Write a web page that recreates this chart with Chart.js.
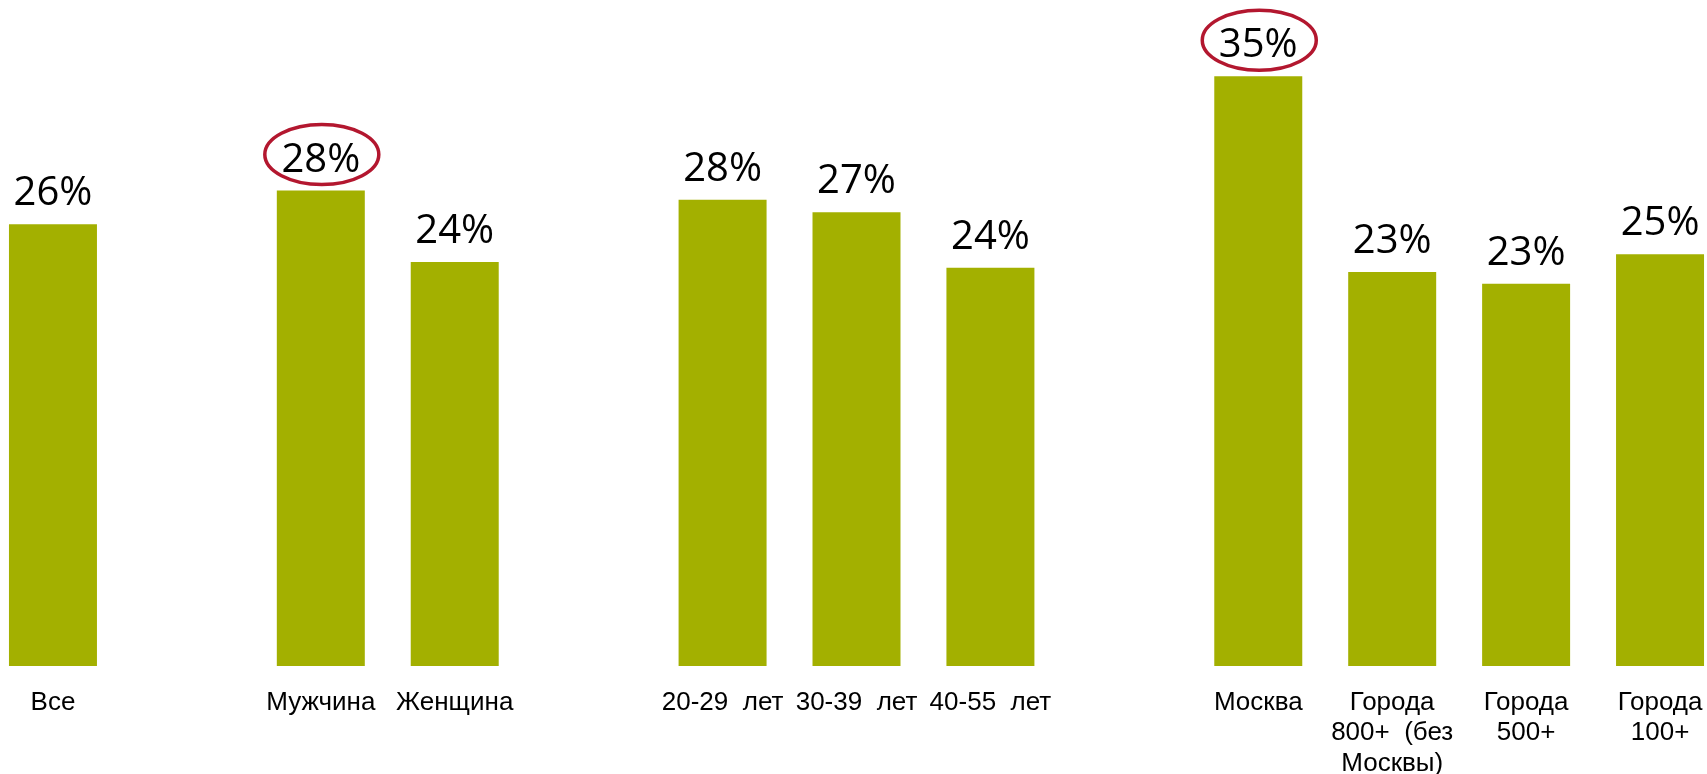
<!DOCTYPE html>
<html>
<head>
<meta charset="utf-8">
<script src="https://cdn.jsdelivr.net/npm/chart.js@4/dist/chart.umd.min.js"></script>
<style>
    html, body { margin: 0; padding: 0; background: #fff; overflow: hidden; }
    #wrap { position: absolute; left: -14px; top: 0; width: 1741px; height: 774px; }
</style>
</head>
<body>
<div id="wrap"><canvas id="chart" width="1741" height="774"></canvas></div>
<script>
// empty strings / nulls are the gaps between groups
const categories = [
    'Все', '',
    'Мужчина', 'Женщина', '',
    '20-29  лет', '30-39  лет', '40-55  лет', '',
    'Москва', ['Города', '800+  (без', 'Москвы)'], ['Города', '500+'], ['Города', '100+']
];
const shares = [26.3, null, 28.3, 24.05, null, 27.75, 27.0, 23.7, null, 35.1, 23.45, 22.75, 24.5];
const shareLabels = ['26%', '', '28%', '24%', '', '28%', '27%', '24%', '', '35%', '23%', '23%', '25%'];
const circled = [false, false, true, false, false, false, false, false, false, true, false, false, false];

const BarColor = '#a3b000';
const CircleColor = '#b3172f';

// value labels above bars, with an ellipse around the circled ones
const valueLabels = {
    id: 'valueLabels',
    afterDatasetsDraw: function (chart) {
        const ctx = chart.ctx;
        const meta = chart.getDatasetMeta(0);
        ctx.save();
        ctx.font = '40px "Open Sans", "Noto Sans", sans-serif';
        ctx.textAlign = 'center';
        ctx.textBaseline = 'alphabetic';
        ctx.fillStyle = '#000';
        for (let i = 0; i < meta.data.length; i++) {
            if (shares[i] == null) {
                continue;
            }
            let bar = meta.data[i];
            ctx.fillText(shareLabels[i], bar.x, bar.y - 19);
            if (circled[i]) {
                ctx.beginPath();
                ctx.ellipse(bar.x + 1, bar.y - 36, 57, 30, 0, 0, Math.PI * 2);
                ctx.lineWidth = 3.5;
                ctx.strokeStyle = CircleColor;
                ctx.stroke();
            }
        }
        ctx.restore();
    }
};

new Chart(document.getElementById('chart').getContext('2d'), {
    type: 'bar',
    data: {
        labels: categories,
        datasets: [{
            data: shares,
            backgroundColor: BarColor,
            borderWidth: 0,
            categoryPercentage: 1,
            barPercentage: 0.657
        }]
    },
    options: {
        responsive: false,
        animation: false,
        layout: { padding: 0 },
        plugins: {
            legend: { display: false },
            tooltip: { enabled: false }
        },
        scales: {
            x: {
                grid: { display: false },
                border: { display: false },
                ticks: {
                    autoSkip: false,
                    maxRotation: 0,
                    padding: 14,
                    color: '#000',
                    font: { family: '"Liberation Sans", Arial, sans-serif', size: 26, lineHeight: 1.16 }
                },
                afterFit: function (scale) {
                    scale.height = 108;
                }
            },
            y: {
                display: false,
                min: 0,
                max: 39.64
            }
        }
    },
    plugins: [valueLabels]
});
</script>
</body>
</html>
